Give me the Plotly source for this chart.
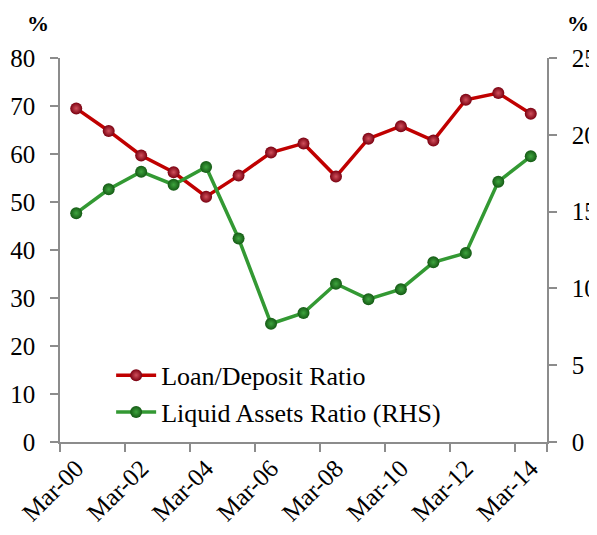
import plotly.graph_objects as go

# 연도 라벨 (Mar-00 ~ Mar-14)
periods = ['Mar-00', 'Mar-01', 'Mar-02', 'Mar-03', 'Mar-04', 'Mar-05', 'Mar-06', 'Mar-07',
           'Mar-08', 'Mar-09', 'Mar-10', 'Mar-11', 'Mar-12', 'Mar-13', 'Mar-14']
loan_deposit = [69.5, 64.8, 59.7, 56.2, 51.1, 55.5, 60.3, 62.2,
                55.3, 63.2, 65.8, 62.8, 71.3, 72.7, 68.4]
liquid_assets = [14.9, 16.45, 17.6, 16.75, 17.9, 13.25, 7.7, 8.4,
                 10.3, 9.3, 9.95, 11.7, 12.3, 16.95, 18.6]
tick_labels = periods[::2]

FONT = "Liberation Serif, Times New Roman, DejaVu Serif, serif"
AXIS_GREY = "#8c8c8c"

fig = go.Figure()

fig.add_trace(go.Scatter(
    x=periods, y=loan_deposit, name="Loan/Deposit Ratio",
    mode="lines+markers",
    line=dict(color="#c00000", width=3.5),
    marker=dict(size=12, color="#7a0010",
                gradient=dict(type="radial", color="#d0505c"),
                line=dict(width=0)),
))

fig.add_trace(go.Scatter(
    x=periods, y=liquid_assets, name="Liquid Assets Ratio (RHS)",
    mode="lines+markers", yaxis="y2",
    line=dict(color="#339933", width=3.5),
    marker=dict(size=12, color="#145a14",
                gradient=dict(type="radial", color="#3fa53f"),
                line=dict(width=0)),
))

axis_common = dict(
    ticks="outside", ticklen=8, tickcolor=AXIS_GREY, tickwidth=1.5,
    showline=True, linecolor=AXIS_GREY, linewidth=1.5,
    showgrid=False, zeroline=False, automargin=False,
    tickfont=dict(family=FONT, size=25, color="#000"),
)

# 페이지 body 여백(8px) 보정
fig.update_layout(
    width=589, height=527,
    margin=dict(l=52, r=50, t=50, b=93, autoexpand=False),
    plot_bgcolor="#fff", paper_bgcolor="#fff",
    font=dict(family=FONT, size=25, color="#000"),
    showlegend=True,
    hovermode=False,
    legend=dict(
        x=0.105, y=0.235, xanchor="left", yanchor="top",
        bgcolor="rgba(0,0,0,0)",
        font=dict(family=FONT, size=26, color="#000"),
        tracegroupgap=0, itemwidth=40,
    ),
    xaxis=dict(
        type="category",
        categoryorder="array", categoryarray=periods,
        range=[-0.5, 14.5],
        tickmode="array", tickvals=tick_labels, ticktext=tick_labels,
        tickson="boundaries",
        tickangle=-45,
        **axis_common,
    ),
    yaxis=dict(
        range=[0, 80], dtick=10,
        ticklabelstandoff=10,
        **axis_common,
    ),
    yaxis2=dict(
        range=[0, 25], dtick=5,
        overlaying="y", side="right",
        ticklabelstandoff=10,
        **axis_common,
    ),
)

fig.add_annotation(text="<b>%</b>", x=-0.045, y=1.09, xref="paper", yref="paper",
                   xanchor="center", yanchor="middle", borderpad=0,
                   showarrow=False, font=dict(family=FONT, size=22))
fig.add_annotation(text="<b>%</b>", x=1.064, y=1.09, xref="paper", yref="paper",
                   xanchor="center", yanchor="middle", borderpad=0,
                   showarrow=False, font=dict(family=FONT, size=22))

fig.write_html("out.html")
